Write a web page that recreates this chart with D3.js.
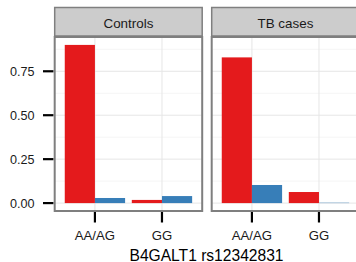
<!DOCTYPE html>
<html>
<head>
<meta charset="utf-8">
<script src="https://cdn.jsdelivr.net/npm/d3@7"></script>
<style>
  body { margin: 0; background: #fff; }
  svg { display: block; font-family: "Liberation Sans", Arial, sans-serif; }
</style>
</head>
<body>
<svg id="chart" width="356" height="262"></svg>
<script>
const panels = ['Controls', 'TB cases'];
const categories = ['AA/AG', 'GG'];
const groups = ['red', 'blue'];
const controlsRed = [0.90, 0.018];
const controlsBlue = [0.029, 0.040];
const tbRed = [0.829, 0.063];
const tbBlue = [0.103, 0.002];
const yTicks = [0, 0.25, 0.5, 0.75];
const yMinor = [0.125, 0.375, 0.625, 0.875];
const xTitle = 'B4GALT1 rs12342831';

const colors = { red: '#E41A1C', blue: '#377EB8' };
const panelData = [
    [controlsRed, controlsBlue],
    [tbRed, tbBlue]
];

const svg = d3.select('#chart');

const panelLeft = [54.7, 211.7];
const panelW = 147.5;
const panelTop = 37, panelBottom = 211;

const y = d3.scaleLinear().domain([-0.045, 0.945]).range([panelBottom, panelTop]);

const makeX = left =>
    d3.scalePoint().domain(categories).range([left, left + panelW]).padding(0.6);

// y axis labels + ticks
const yAxis = svg.append('g');
yTicks.forEach(t => {
    yAxis.append('line')
        .attr('x1', 43).attr('x2', 53.5)
        .attr('y1', y(t)).attr('y2', y(t))
        .attr('stroke', '#000').attr('stroke-width', 2.2);
    yAxis.append('text')
        .attr('x', 34.5).attr('y', y(t) + 4.5)
        .attr('text-anchor', 'end')
        .attr('font-size', 12.6)
        .attr('fill', '#1a1a1a')
        .text(d3.format('.2f')(t));
});

panels.forEach((name, p) => {
    const x = makeX(panelLeft[p]);
    const step = x.step();
    const dodge = d3.scaleBand().domain(groups).range([-0.45 * step, 0.45 * step]);
    const g = svg.append('g');

    g.append('rect')
        .attr('x', panelLeft[p]).attr('y', panelTop)
        .attr('width', panelW).attr('height', panelBottom - panelTop)
        .attr('fill', '#fff');

    yMinor.forEach(t => {
        g.append('line')
            .attr('x1', panelLeft[p]).attr('x2', panelLeft[p] + panelW)
            .attr('y1', y(t)).attr('y2', y(t))
            .attr('stroke', '#f5f5f5').attr('stroke-width', 1);
    });
    yTicks.forEach(t => {
        g.append('line')
            .attr('x1', panelLeft[p]).attr('x2', panelLeft[p] + panelW)
            .attr('y1', y(t)).attr('y2', y(t))
            .attr('stroke', '#e6e6e6').attr('stroke-width', 1);
    });
    categories.forEach(c => {
        g.append('line')
            .attr('x1', x(c)).attr('x2', x(c))
            .attr('y1', panelTop).attr('y2', panelBottom)
            .attr('stroke', '#e6e6e6').attr('stroke-width', 1);
    });

    groups.forEach((grp, gi) => {
        g.selectAll(null)
            .data(panelData[p][gi])
            .join('rect')
            .attr('x', (d, i) => x(categories[i]) + dodge(grp))
            .attr('width', dodge.bandwidth())
            .attr('y', d => y(d))
            .attr('height', d => y(0) - y(d))
            .attr('fill', colors[grp]);
    });

    g.append('rect')
        .attr('x', panelLeft[p]).attr('y', panelTop)
        .attr('width', panelW).attr('height', panelBottom - panelTop)
        .attr('fill', 'none')
        .attr('stroke', '#7f7f7f').attr('stroke-width', 2);

    // strip
    g.append('rect')
        .attr('x', panelLeft[p]).attr('y', 7.5)
        .attr('width', panelW).attr('height', 28.5)
        .attr('fill', '#cccccc')
        .attr('stroke', '#7f7f7f').attr('stroke-width', 1.5);
    g.append('text')
        .attr('x', panelLeft[p] + panelW / 2).attr('y', 27.6)
        .attr('text-anchor', 'middle')
        .attr('font-size', 13.4)
        .attr('fill', '#1a1a1a')
        .text(name);

    // x ticks
    categories.forEach(c => {
        g.append('line')
            .attr('x1', x(c)).attr('x2', x(c))
            .attr('y1', 212).attr('y2', 222.5)
            .attr('stroke', '#000').attr('stroke-width', 2.2);
        g.append('text')
            .attr('x', x(c)).attr('y', 240)
            .attr('text-anchor', 'middle')
            .attr('font-size', 13.2)
            .attr('fill', '#1a1a1a')
            .text(c);
    });
});

svg.append('text')
    .attr('x', 206.5).attr('y', 260.5)
    .attr('text-anchor', 'middle')
    .attr('font-size', 15.6)
    .attr('fill', '#000')
    .text(xTitle);
</script>
</body>
</html>
